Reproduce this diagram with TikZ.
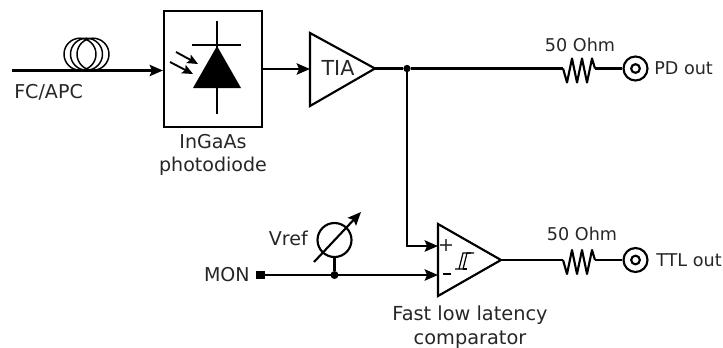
\documentclass[tikz,border=0pt]{standalone}
\usepackage{fontspec}
\setmainfont{DejaVu Sans}
\usetikzlibrary{arrows.meta}
\tikzset{
  x=0.75pt,y=-0.75pt,
  wire/.style={line width=1.6pt,line join=miter},
  sig/.style={wire,-{Stealth[length=10pt,width=8.5pt,inset=1.8pt]}},
  ray/.style={line width=1.4pt,-{Stealth[length=8pt,width=7pt,inset=1.5pt]}},
  label/.style={font=\fontsize{14.3}{16.5}\selectfont,text=black!85,inner sep=0pt,align=center},
  slabel/.style={label,font=\fontsize{13.2}{16}\selectfont},
  dot/.style={circle,fill=black,inner sep=0pt,minimum size=5.5pt},
  block/.style={draw,line width=1.6pt,inner sep=0pt,minimum width=73.5pt,minimum height=87pt},
  coax/.style={circle,draw,line width=1.6pt,inner sep=0pt,minimum size=18pt},
  coaxin/.style={circle,draw,line width=1.6pt,inner sep=0pt,minimum size=6.5pt},
}
\newcommand{\resistor}[2]{%
  \draw[wire,line join=round] (#1) -- ++(4,14) -- ++(5,-24) -- ++(5,24) -- ++(5,-24) -- ++(5,24) -- ++(5,-24) -- ++(3,10) coordinate (#2);}
\begin{document}
\begin{tikzpicture}
\useasboundingbox (0,0) rectangle (723,347);
% fibre
\coordinate (fibin) at (12,70.5);
\node[block] (pd) at (213,69) {};
\coordinate (pdin) at (pd.west |- fibin);
\draw[sig] (fibin) -- (pdin);
\foreach \cx in {80,86.5,93}
  \draw[line width=1.1pt] (\cx,54.2) circle [radius=16];
\node[label,anchor=west] (fc) at (14,92) {FC/APC};
% diode
\coordinate (dtop) at (217,21);
\coordinate (dbot) at (217,114);
\coordinate (apex) at (217,46);
\draw[wire] (dtop) -- (dbot);
\draw[wire] (192,45) -- (241,45);
\fill (apex) -- (193,88) -- (241,88) -- cycle;
\coordinate (la) at (176,52); \coordinate (lb) at (198,64);
\coordinate (lc) at (170,62); \coordinate (ld) at (193,74);
\draw[ray] (la) -- (lb);
\draw[ray] (lc) -- (ld);
\node[label] (pdl) at (213,155) {InGaAs\\[1pt]photodiode};
% TIA
\coordinate (ta) at (310,33); \coordinate (tb) at (310,106); \coordinate (tc) at (375,68.5);
\draw[wire,line join=miter] (ta) -- (tc) -- (tb) -- cycle;
\node[label,font=\fontsize{15.5}{18}\selectfont] (tia) at (338,68) {TIA};
\coordinate (tin) at (310,69);
\draw[sig] (pd.east |- tin) -- (tin);
% PD out
\node[dot] (j1) at (407,68.5) {};
\coordinate (r1a) at (563,68.5);
\draw[wire] (tc) -- (j1) -- (r1a);
\resistor{r1a}{r1b}
\node[coax] (c1) at (635.5,68.5) {};
\node[coaxin] (c1i) at (635.5,68.5) {};
\draw[wire] (r1b) -- (c1.west);
\node[slabel] at (580,45) {50 Ohm};
\node[slabel,anchor=west] at (654,68) {PD out};
% comparator
\coordinate (ca) at (438,224); \coordinate (cb) at (438,296); \coordinate (cc) at (501,260);
\draw[wire] (ca) -- (cc) -- (cb) -- cycle;
\coordinate (cp) at (438,246); \coordinate (cm) at (438,275);
\draw[sig] (j1) |- (cp);
\node[label] at (446,246) {+};
\draw[line width=1.1pt] (443,274) -- (451,274);
\draw[line width=0.9pt] (455,269) -- (463,269) -- (467,253) -- (474,253);
\draw[line width=0.9pt] (459,269) -- (463,253) -- (471,253);
\draw[line width=0.9pt] (463,269) -- (467,269);
% MON
\node[rectangle,fill=black,inner sep=0pt,minimum size=6.5pt] (mon) at (260.5,275) {};
\node[label,anchor=east] (monl) at (250,275) {MON};
\draw[sig] (mon) -- (cm);
\node[dot,minimum size=6pt] (j2) at (334.5,275) {};
\node[circle,draw,line width=1.6pt,inner sep=0pt,minimum size=25.5pt] (vr) at (334.5,240) {};
\draw[wire] (j2) -- (vr);
\coordinate (va) at (314,262); \coordinate (vb) at (361,212);
\draw[sig] (va) -- (vb);
\node[label,anchor=east] at (308,238) {Vref};
\node[label,font=\fontsize{14.5}{16.5}\selectfont] at (470,327) {Fast low latency\\[1pt]comparator};
% TTL out
\coordinate (r2a) at (563,260);
\draw[wire] (cc) -- (r2a);
\resistor{r2a}{r2b}
\node[coax] (c2) at (635.5,260) {};
\node[coaxin] (c2i) at (635.5,260) {};
\draw[wire] (r2b) -- (c2.west);
\node[slabel] at (582,234) {50 Ohm};
\node[slabel,anchor=west] at (656,260) {TTL out};
\end{tikzpicture}
\end{document}
